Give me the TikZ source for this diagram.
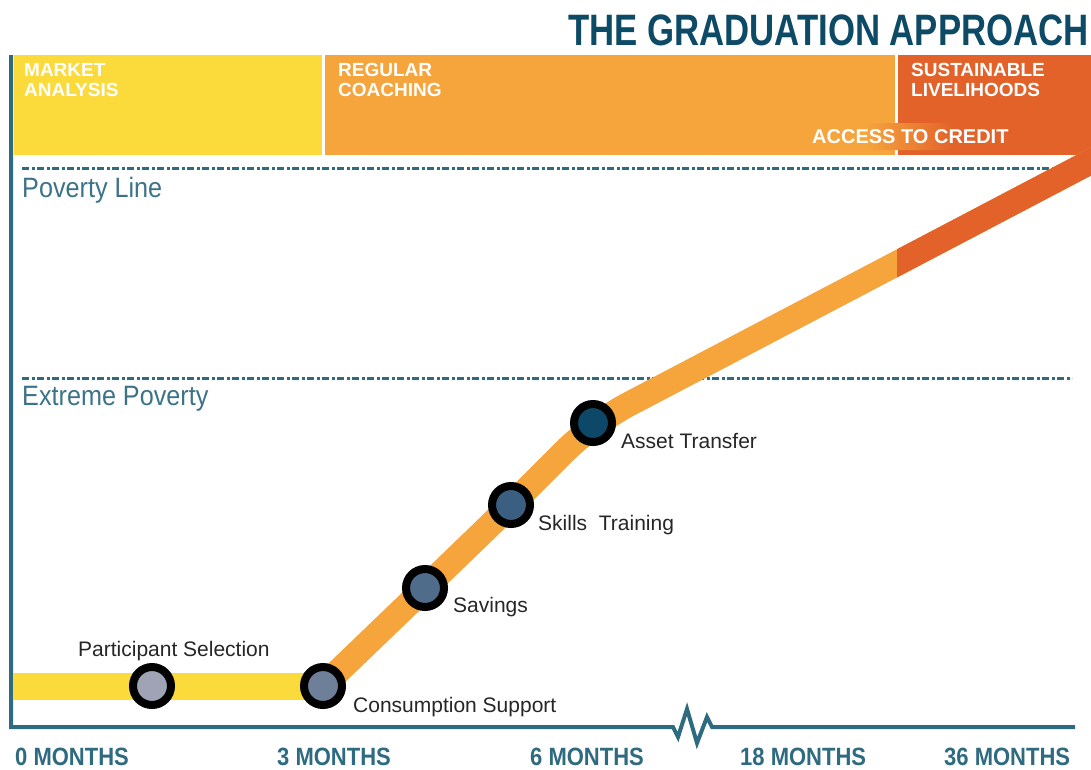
\documentclass[tikz,border=0pt]{standalone}
\usepackage{fontspec}
\setmainfont{Liberation Sans}
\newfontfamily\titlefont[FakeStretch=0.79]{Liberation Sans Bold}
\newfontfamily\monthfont[FakeStretch=0.88]{Liberation Sans Bold}
\newfontfamily\levelfont[FakeStretch=0.9]{Liberation Sans}
\usetikzlibrary{positioning}
\definecolor{axisteal}{HTML}{2E6A80}
\definecolor{levelteal}{HTML}{3C7387}
\definecolor{titleblue}{HTML}{0D4A66}
\definecolor{bandyellow}{HTML}{FBDA3C}
\definecolor{bandorange}{HTML}{F6A53D}
\definecolor{darkorange}{HTML}{E2622A}
\definecolor{fillA}{HTML}{9EA4B5}
\definecolor{fillB}{HTML}{6E7F99}
\definecolor{fillC}{HTML}{506C8B}
\definecolor{fillD}{HTML}{3B5F80}
\definecolor{fillE}{HTML}{0E4868}

\begin{document}
\begin{tikzpicture}[x=1pt, y=-1pt,
    milestone/.style={circle, draw=black, line width=8pt, minimum size=38pt, inner sep=0pt},
    mlabel/.style={anchor=base west, inner sep=0pt, text=black!85, font=\fontsize{21}{24}\selectfont},
    bandtext/.style={anchor=north west, align=left, inner sep=0pt, text=white, font=\bfseries\fontsize{19}{20}\selectfont},
    monthtext/.style={anchor=base west, inner sep=0pt, text=axisteal, font=\monthfont\fontsize{25}{30}\selectfont},
    leveltext/.style={anchor=base west, inner sep=0pt, text=levelteal, font=\levelfont\fontsize{28}{32}\selectfont},
    levelline/.style={draw=axisteal, line width=3pt, dash pattern=on 7pt off 2.5pt on 3pt off 2.5pt}]
    \useasboundingbox (0, 0) rectangle (1091, 769);
    \clip (0, 0) rectangle (1091, 769);

    \fill [bandyellow] (14, 55) rectangle (322, 155);
    \fill [bandorange] (325, 55) rectangle (895, 155);
    \fill [darkorange] (898, 55) rectangle (1091, 155);
    \shade [left color=bandorange, right color=darkorange, rounded corners=10pt] (865, 123) rectangle (955, 150);

    \draw [levelline] (22, 168) -- (1075, 168);
    \draw [levelline] (22, 378) -- (1072, 378);

    \draw [axisteal, line width=4pt] (11, 55) -- (11, 727) -- (673, 727) -- (678, 737) -- (687, 709)
        -- (697, 743) -- (707, 717) -- (712, 727) -- (1075, 727);

    \coordinate (start) at (13, 686);
    \coordinate (select) at (152, 686);
    \coordinate (support) at (323, 686);
    \coordinate (savings) at (425, 588);
    \coordinate (skills) at (511, 505);
    \coordinate (asset) at (593, 423);
    \coordinate (finish) at (1130, 141);

    \draw [bandyellow, line width=27pt] (start) -- (support);
    \draw [bandorange, line width=25pt, rounded corners=40pt] (support) -- (savings) -- (skills) -- (asset) -- (finish);
    \begin{scope}
      \clip (897, 0) rectangle (1091, 769);
      \draw [darkorange, line width=25pt] (asset) -- (finish);
    \end{scope}

    \node [milestone, fill=fillA] (sel) at (select) {};
    \node [milestone, fill=fillB] (sup) at (support) {};
    \node [milestone, fill=fillC] (sav) at (savings) {};
    \node [milestone, fill=fillD] (skl) at (skills) {};
    \node [milestone, fill=fillE] (ast) at (asset) {};

    \node [mlabel] (sellabel) at (78, 656) {Participant Selection};
    \node [mlabel] (suplabel) at (353, 712) {Consumption Support};
    \node [mlabel] (savlabel) at (453, 612) {Savings};
    \node [mlabel] (skllabel) at (538, 530) {Skills\ \ Training};
    \node [mlabel] (astlabel) at (621, 448) {Asset Transfer};

    \node [bandtext] (market) at (24, 63) {MARKET\\ANALYSIS};
    \node [bandtext] (coaching) at (338, 63) {REGULAR\\COACHING};
    \node [bandtext] (livelihood) at (911, 63) {SUSTAINABLE\\LIVELIHOODS};
    \node [anchor=base west, inner sep=0pt, text=white, font=\bfseries\fontsize{20}{24}\selectfont] (credit) at (812, 143) {ACCESS TO CREDIT};

    \node [leveltext] (povline) at (22, 197) {Poverty Line};
    \node [leveltext] (extreme) at (22, 405) {Extreme Poverty};

    \foreach \x/\t in {15/0, 277/3, 530/6, 740/18, 944/36}
      \node [monthtext] at (\x, 765) {\t\ MONTHS};

    \node [anchor=base east, inner sep=0pt, text=titleblue, font=\titlefont\fontsize{44}{50}\selectfont] (title) at (1089, 45) {THE GRADUATION APPROACH};
\end{tikzpicture}
\end{document}
